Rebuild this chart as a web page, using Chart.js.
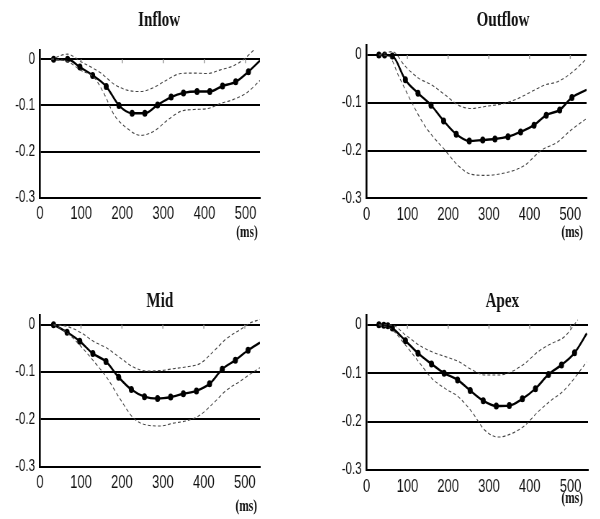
<!DOCTYPE html>
<html>
<head>
<meta charset="utf-8">
<script src="https://cdn.jsdelivr.net/npm/chart.js@4.4.1/dist/chart.umd.min.js"></script>
<style>
  body { margin: 0; background: #fff; }
  #wrap { position: relative; width: 600px; height: 519px; overflow: hidden; }
  canvas { position: absolute; transform: scaleX(0.72); transform-origin: 0 0; }
</style>
</head>
<body>
<div id="wrap">
  <canvas id="inflow" width="417" height="259" style="left:0;top:0"></canvas>
  <canvas id="outflow" width="417" height="259" style="left:300px;top:0"></canvas>
  <canvas id="mid" width="417" height="259" style="left:0;top:260px"></canvas>
  <canvas id="apex" width="417" height="259" style="left:300px;top:260px"></canvas>
</div>
<script>
// tick labels
const xTicks = [0, 100, 200, 300, 400, 500];
const yTicks = [0, -0.1, -0.2, -0.3];

// Inflow (ms / strain)
const inflowTime = [33, 67, 97, 128, 161, 192, 224, 255, 286, 319, 349, 382, 413, 444, 476, 507, 535];
const inflowMean = [0, 0, -0.017, -0.035, -0.059, -0.100, -0.117, -0.117, -0.099, -0.082, -0.073, -0.070, -0.070, -0.058, -0.049, -0.027, -0.003];
const inflowUpTime = [27, 67, 99, 148, 180, 212, 245, 277, 310, 342, 374, 407, 439, 471, 496, 520];
const inflowUp = [0, 0.011, -0.005, -0.030, -0.054, -0.067, -0.070, -0.061, -0.044, -0.031, -0.030, -0.031, -0.023, -0.014, 0, 0.02];
const inflowLoTime = [27, 67, 99, 132, 156, 180, 212, 245, 277, 310, 342, 374, 407, 439, 471, 504, 535];
const inflowLo = [0, -0.005, -0.024, -0.040, -0.075, -0.120, -0.150, -0.165, -0.156, -0.132, -0.113, -0.109, -0.107, -0.096, -0.087, -0.072, -0.046];

// Outflow
const outflowTime = [30, 44, 63, 95, 126, 158, 189, 220, 252, 285, 315, 347, 378, 411, 441, 474, 504, 540];
const outflowMean = [0, 0, -0.002, -0.052, -0.080, -0.105, -0.138, -0.166, -0.180, -0.178, -0.176, -0.171, -0.161, -0.147, -0.126, -0.115, -0.089, -0.073];
const outflowUpTime = [30, 63, 95, 128, 160, 193, 225, 258, 290, 339, 372, 404, 437, 469, 502, 540];
const outflowUp = [0, 0.007, -0.024, -0.049, -0.063, -0.084, -0.105, -0.112, -0.108, -0.101, -0.091, -0.077, -0.063, -0.056, -0.038, -0.008];
const outflowLoTime = [30, 54, 79, 111, 144, 193, 225, 258, 290, 339, 388, 428, 469, 502, 540];
const outflowLo = [0, -0.002, -0.045, -0.100, -0.150, -0.200, -0.232, -0.250, -0.252, -0.247, -0.231, -0.200, -0.182, -0.157, -0.133];

// Mid
const midTime = [33, 66, 97, 129, 161, 192, 223, 255, 287, 319, 350, 382, 414, 445, 477, 508, 537];
const midMean = [0, -0.016, -0.035, -0.061, -0.078, -0.111, -0.137, -0.152, -0.156, -0.153, -0.146, -0.140, -0.125, -0.094, -0.075, -0.054, -0.038];
const midBandTime = [33, 67, 100, 132, 164, 197, 229, 261, 294, 326, 358, 391, 423, 456, 488, 512, 537];
const midUp = [0, -0.004, -0.017, -0.036, -0.050, -0.071, -0.090, -0.098, -0.097, -0.093, -0.089, -0.082, -0.057, -0.029, -0.011, 0.003, 0.011];
const midLo = [0, -0.018, -0.046, -0.078, -0.113, -0.159, -0.198, -0.212, -0.214, -0.208, -0.203, -0.191, -0.166, -0.138, -0.120, -0.105, -0.091];

// Apex
const apexTime = [30, 42, 52, 63, 95, 126, 159, 190, 223, 254, 286, 318, 350, 382, 414, 446, 478, 510, 540];
const apexMean = [0, -0.001, -0.002, -0.007, -0.033, -0.059, -0.081, -0.100, -0.114, -0.136, -0.157, -0.168, -0.167, -0.153, -0.132, -0.103, -0.083, -0.058, -0.018];
const apexUpTime = [30, 63, 95, 128, 160, 193, 225, 258, 290, 323, 355, 388, 420, 453, 485, 518];
const apexUp = [0, -0.001, -0.021, -0.042, -0.056, -0.066, -0.076, -0.093, -0.104, -0.104, -0.097, -0.080, -0.056, -0.039, -0.025, 0.010];
const apexLoTime = [30, 63, 95, 128, 160, 193, 225, 258, 290, 323, 355, 388, 420, 453, 485, 540];
const apexLo = [0, -0.011, -0.042, -0.077, -0.111, -0.132, -0.149, -0.180, -0.218, -0.232, -0.225, -0.208, -0.180, -0.156, -0.135, -0.077];

const pts = (t, v) => t.map((x, i) => ({ x: x, y: v[i] }));

const dashed = (t, v) => ({
  data: pts(t, v),
  borderColor: '#444',
  borderWidth: 1.1,
  borderDash: [4, 3],
  pointRadius: 0,
  cubicInterpolationMode: 'monotone',
  fill: false
});

// draws the panel title, the "(ms)" unit and the small marks on the zero line
const decorPlugin = {
  id: 'decor',
  afterDraw(chart) {
    const o = chart.options.plugins.decor;
    const ctx = chart.ctx;
    const xs = chart.scales.x, ys = chart.scales.y;
    ctx.save();
    ctx.strokeStyle = '#999';
    ctx.lineWidth = 1.5;
    const y0 = ys.getPixelForValue(0);
    xTicks.slice(1).forEach(v => {
      const px = xs.getPixelForValue(v);
      ctx.beginPath();
      ctx.moveTo(px, y0);
      ctx.lineTo(px, y0 + 4);
      ctx.stroke();
    });
    ctx.fillStyle = '#111';
    ctx.textAlign = 'center';
    ctx.textBaseline = 'middle';
    ctx.font = 'bold 21px "Liberation Serif", "Times New Roman", serif';
    ctx.fillText(o.title, o.titleX, o.titleY);
    ctx.font = 'bold 16px "Liberation Serif", "Times New Roman", serif';
    ctx.fillText('(ms)', o.msX, o.msY);
    ctx.restore();
  }
};

function makePanel(id, title, meanT, meanV, upT, upV, loT, loV, box) {
  const last = meanT.length - 1;
  new Chart(document.getElementById(id), {
    type: 'line',
    data: {
      datasets: [
        dashed(upT, upV),
        dashed(loT, loV),
        {
          data: pts(meanT, meanV),
          borderColor: '#000',
          backgroundColor: '#000',
          borderWidth: 2.4,
          pointRadius: c => c.dataIndex === last ? 0 : 3.5,
          pointBorderWidth: 0,
          cubicInterpolationMode: 'monotone',
          fill: false
        }
      ]
    },
    options: {
      responsive: false,
      animation: false,
      layout: { padding: { top: box.top, right: 417 - box.right, left: 0, bottom: 0 } },
      plugins: {
        legend: { display: false },
        tooltip: { enabled: false },
        decor: { title: title, titleX: box.titleX, titleY: box.titleY, msX: box.msX, msY: box.msY }
      },
      scales: {
        x: {
          type: 'linear',
          min: 0,
          max: box.xMax,
          afterFit: s => { s.height = 259 - box.bottom; },
          afterBuildTicks: s => { s.ticks = xTicks.map(v => ({ value: v })); },
          grid: { display: false, drawTicks: false },
          border: { display: true, color: '#000', width: 2 },
          ticks: {
            padding: 6,
            color: '#111',
            maxRotation: 0,
            font: { family: '"Liberation Sans", Arial, sans-serif', size: 18 }
          }
        },
        y: {
          min: -0.3,
          max: 0.02,
          afterFit: s => { s.width = box.left; },
          afterBuildTicks: s => { s.ticks = yTicks.map(v => ({ value: v })); },
          grid: { color: '#000', lineWidth: 2, drawTicks: false },
          border: { display: true, color: '#000', width: 2.6 },
          ticks: {
            padding: 7,
            color: '#111',
            callback: v => v === 0 ? '0' : v.toFixed(1),
            font: { family: '"Liberation Sans", Arial, sans-serif', size: 16 }
          }
        }
      }
    },
    plugins: [decorPlugin]
  });
}

makePanel('inflow', 'Inflow', inflowTime, inflowMean, inflowUpTime, inflowUp, inflowLoTime, inflowLo,
  { left: 55.6, right: 361, top: 50, bottom: 197.7, xMax: 535, titleX: 221, titleY: 21, msX: 343, msY: 233 });
makePanel('outflow', 'Outflow', outflowTime, outflowMean, outflowUpTime, outflowUp, outflowLoTime, outflowLo,
  { left: 92.6, right: 398, top: 45.4, bottom: 198.3, xMax: 540, titleX: 282, titleY: 21, msX: 378, msY: 233 });
makePanel('mid', 'Mid', midTime, midMean, midBandTime, midUp, midBandTime, midLo,
  { left: 55.6, right: 361, top: 55.2, bottom: 206.7, xMax: 537, titleX: 222, titleY: 42, msX: 342, msY: 247 });
makePanel('apex', 'Apex', apexTime, apexMean, apexUpTime, apexUp, apexLoTime, apexLo,
  { left: 92.6, right: 400, top: 55, bottom: 210, xMax: 543, titleX: 281, titleY: 42, msX: 378, msY: 239 });
</script>
</body>
</html>
